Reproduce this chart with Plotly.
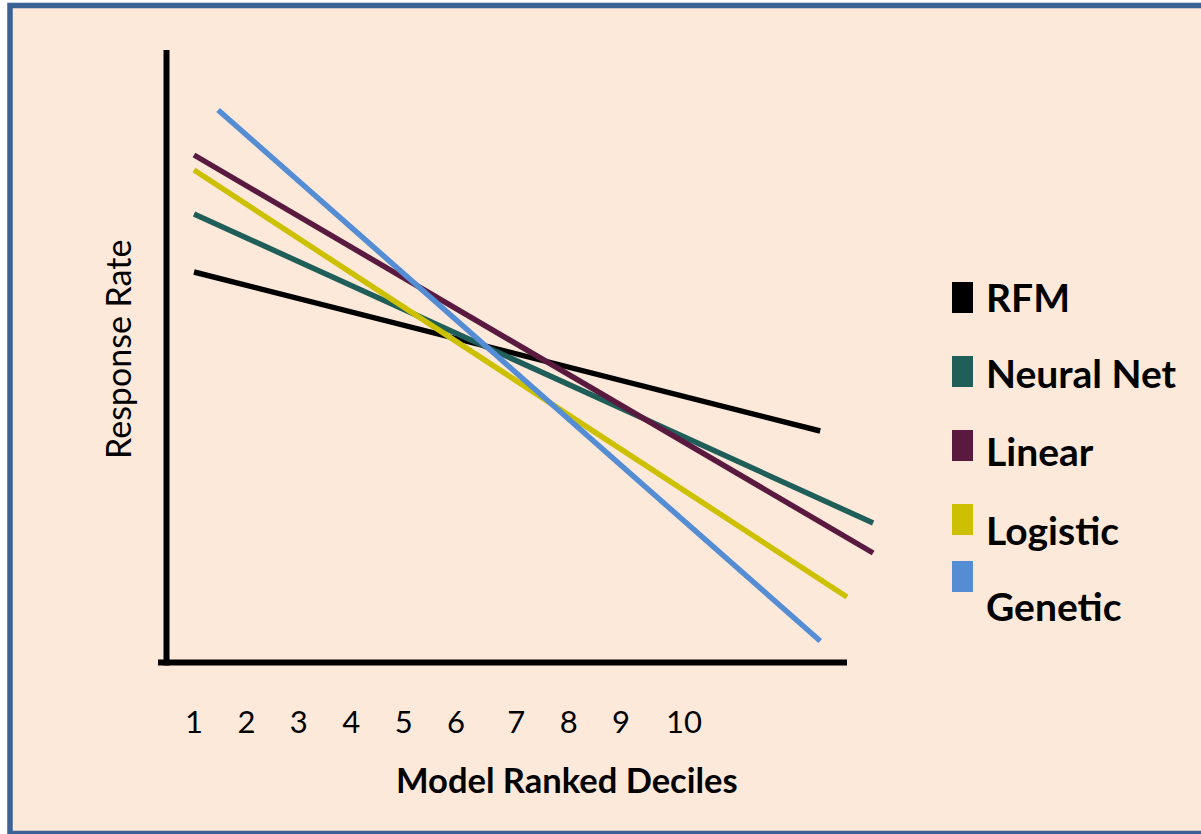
import plotly.graph_objects as go

# ---- data (conceptual gains chart) ----
series_names = ["RFM", "Neural Net", "Linear", "Logistic", "Genetic"]
series_colors = ["#000000", "#1F5E59", "#5A1A40", "#CCC000", "#548DD4"]
# x in decile units, y in response-rate units (arbitrary scale, axis unlabeled)
rfm_x = [1.0, 12.95]
rfm_y = [39.0, 23.1]
nn_x = [1.0, 13.96]
nn_y = [44.8, 13.9]
linear_x = [1.0, 13.96]
linear_y = [50.7, 10.9]
logistic_x = [1.0, 13.46]
logistic_y = [49.2, 6.5]
genetic_x = [1.46, 12.95]
genetic_y = [55.2, 2.1]

tick_pos = [1, 2, 3, 4, 5, 6, 7.15, 8.15, 9.15, 10.35]
tick_labels = ["1", "2", "3", "4", "5", "6", "7", "8", "9", "10"]

xs = [rfm_x, nn_x, linear_x, logistic_x, genetic_x]
ys = [rfm_y, nn_y, linear_y, logistic_y, genetic_y]

W, H = 1201, 834
FONT = "Lato"

def px(p):
    return p / W

def py(p):
    return (H - p) / H

fig = go.Figure()
for name, color, x, y in zip(series_names, series_colors, xs, ys):
    fig.add_trace(go.Scatter(x=x, y=y, mode="lines", name=name,
                             line=dict(color=color, width=5.5),
                             showlegend=False, hoverinfo="name"))

shapes = [
    # background box with blue border
    dict(type="rect", xref="paper", yref="paper", x0=px(10), x1=px(1212),
         y0=py(833.5), y1=py(5.5), fillcolor="#FDE9DA",
         line=dict(color="#3A6294", width=5.5), layer="below"),
    # axis lines
    dict(type="line", xref="paper", yref="paper", x0=px(166.5), x1=px(166.5),
         y0=py(665.5), y1=py(50), line=dict(color="black", width=6)),
    dict(type="line", xref="paper", yref="paper", x0=px(158), x1=px(847),
         y0=py(662.5), y1=py(662.5), line=dict(color="black", width=6)),
]

annotations = [
    dict(text="Response Rate", xref="paper", yref="paper", x=px(117), y=py(350),
         textangle=-90, showarrow=False, xanchor="center", yanchor="middle",
         font=dict(family=FONT, size=34, color="black")),
    dict(text="<b>Model Ranked Deciles</b>", xref="paper", yref="paper",
         x=px(567), y=py(779), showarrow=False, xanchor="center", yanchor="middle",
         font=dict(family=FONT, size=34.5, color="black")),
]

# custom legend
rect_tops = [282, 356, 430, 504, 561]
text_centers = [297, 373, 451, 530, 606]
for name, color, rt, tc in zip(series_names, series_colors, rect_tops, text_centers):
    shapes.append(dict(type="rect", xref="paper", yref="paper",
                       x0=px(952), x1=px(973), y0=py(rt + 31), y1=py(rt),
                       fillcolor=color, line=dict(width=0)))
    annotations.append(dict(text="<b>%s</b>" % name, xref="paper", yref="paper",
                            x=px(984), y=py(tc), showarrow=False,
                            xanchor="left", yanchor="middle",
                            font=dict(family=FONT, size=39, color="black")))

fig.update_layout(
    width=W, height=H,
    margin=dict(l=0, r=0, t=0, b=0),
    paper_bgcolor="white",
    plot_bgcolor="rgba(0,0,0,0)",
    shapes=shapes,
    annotations=annotations,
    showlegend=False,
    xaxis=dict(domain=[px(163), px(890)], range=[0.4084, 14.282],
               showgrid=False, zeroline=False, showline=False,
               tickmode="array", tickvals=tick_pos, ticktext=tick_labels,
               ticks="outside", ticklen=25, tickcolor="rgba(0,0,0,0)",
               tickfont=dict(family=FONT, size=31, color="black")),
    yaxis=dict(domain=[py(670), py(40)], range=[-0.8, 62.2],
               showgrid=False, zeroline=False, showline=False,
               showticklabels=False, ticks=""),
)

fig.write_html("out.html", config={"displayModeBar": False},
               post_script="document.body.style.margin='0px';document.body.style.overflow='hidden';")
